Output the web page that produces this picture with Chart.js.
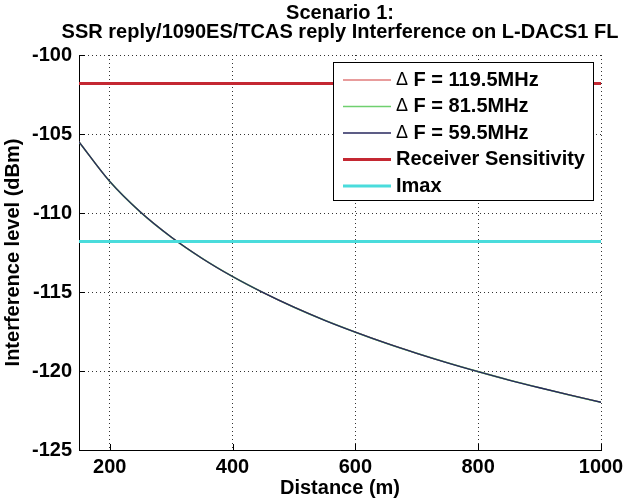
<!DOCTYPE html>
<html>
<head>
<meta charset="utf-8">
<script src="https://cdn.jsdelivr.net/npm/chart.js@4.4.0/dist/chart.umd.min.js"></script>
<style>
  html, body { margin: 0; padding: 0; background: #fff; }
</style>
</head>
<body>
<canvas id="interferenceChart" width="627" height="504"></canvas>
<script>
// distance (m) and interference level (dBm) per frequency offset
const distances = [150, 200, 250, 300, 350, 400, 450, 500, 550, 600, 650, 700, 750, 800, 850, 900, 950, 1000];
const df119 = [-105.50, -108.00, -109.94, -111.52, -112.86, -114.02, -115.04, -115.96, -116.79, -117.54, -118.24, -118.88, -119.48, -120.04, -120.57, -121.06, -121.53, -121.98];
const df81 = [-105.50, -108.00, -109.94, -111.52, -112.86, -114.02, -115.04, -115.96, -116.79, -117.54, -118.24, -118.88, -119.48, -120.04, -120.57, -121.06, -121.53, -121.98];
const df59 = [-105.50, -108.00, -109.94, -111.52, -112.86, -114.02, -115.04, -115.96, -116.79, -117.54, -118.24, -118.88, -119.48, -120.04, -120.57, -121.06, -121.53, -121.98];
const rxSensitivity = -101.8;
const imax = -111.8;
const xTicks = [200, 400, 600, 800, 1000];
const titleLines = ["Scenario 1:", "SSR reply/1090ES/TCAS reply Interference on L-DACS1 FL"];

const FONT = '"Liberation Sans", Arial, Helvetica, sans-serif';
const labelFont = { family: FONT, size: 20, weight: "bold" };

const toPoints = ys => distances.map((d, i) => ({ x: d, y: ys[i] }));
const flatLine = y => [{ x: distances[0], y: y }, { x: distances[distances.length - 1], y: y }];

// two-line title centred over the plot
const titlePlugin = {
    id: "twoLineTitle",
    afterDraw(chart) {
        const { ctx, chartArea } = chart;
        ctx.save();
        ctx.font = "bold 20px " + FONT;
        ctx.fillStyle = "#000";
        ctx.textAlign = "center";
        ctx.textBaseline = "middle";
        const cx = (chartArea.left + chartArea.right) / 2;
        titleLines.forEach((line, i) => ctx.fillText(line, cx, 13 + i * 19));
        ctx.restore();
    }
};

// small inward tick marks on the left and bottom axes
const innerTicks = {
    id: "innerTicks",
    afterDraw(chart) {
        const { ctx, chartArea, scales } = chart;
        ctx.save();
        ctx.strokeStyle = "#000";
        ctx.lineWidth = 1;
        ctx.beginPath();
        scales.y.ticks.forEach(t => {
            const y = Math.round(scales.y.getPixelForValue(t.value)) + 0.5;
            ctx.moveTo(chartArea.left, y);
            ctx.lineTo(chartArea.left + 6, y);
        });
        scales.x.ticks.forEach(t => {
            const x = Math.round(scales.x.getPixelForValue(t.value)) + 0.5;
            ctx.moveTo(x, chartArea.bottom);
            ctx.lineTo(x, chartArea.bottom - 6);
        });
        ctx.stroke();
        ctx.restore();
    }
};

// boxed legend in the upper right of the plot
const legendBox = {
    id: "legendBox",
    afterDraw(chart) {
        const { ctx, chartArea } = chart;
        const w = 260, h = 138;
        const left = chartArea.right - 8 - w;
        const top = chartArea.top + 7;
        ctx.save();
        ctx.fillStyle = "#fff";
        ctx.fillRect(left, top, w, h);
        ctx.strokeStyle = "#000";
        ctx.lineWidth = 1;
        ctx.strokeRect(left + 0.5, top + 0.5, w, h);
        ctx.textBaseline = "middle";
        chart.data.datasets.forEach((ds, i) => {
            const y = top + 18 + i * 26.5;
            ctx.strokeStyle = ds.borderColor;
            ctx.lineWidth = ds.borderWidth;
            ctx.beginPath();
            ctx.moveTo(left + 10, y);
            ctx.lineTo(left + 58, y);
            ctx.stroke();
            ctx.fillStyle = "#000";
            let x = left + 63;
            let text = ds.label;
            if (text.startsWith("Δ")) {
                ctx.font = "18px " + FONT;
                ctx.fillText("Δ", x, y);
                x += ctx.measureText("Δ").width;
                text = text.slice(1);
            }
            ctx.font = "bold 20px " + FONT;
            ctx.fillText(text, x, y);
        });
        ctx.restore();
    }
};

const ctx = document.getElementById("interferenceChart").getContext("2d");

new Chart(ctx, {
    type: "line",
    data: {
        datasets: [
            { label: "Δ F = 119.5MHz", data: toPoints(df119), borderColor: "#d23a3a", borderWidth: 1.2, order: 4 },
            { label: "Δ F = 81.5MHz", data: toPoints(df81), borderColor: "#6fd06f", borderWidth: 1.6, order: 3 },
            { label: "Δ F = 59.5MHz", data: toPoints(df59), borderColor: "#27275e", borderWidth: 1.3, order: 2 },
            { label: "Receiver Sensitivity", data: flatLine(rxSensitivity), borderColor: "#c42832", borderWidth: 3, order: 1 },
            { label: "Imax", data: flatLine(imax), borderColor: "#4adcdc", borderWidth: 3, order: 0 }
        ]
    },
    options: {
        responsive: false,
        animation: false,
        devicePixelRatio: 1,
        layout: { padding: { top: 55, right: 26, left: 0, bottom: 0 } },
        elements: {
            point: { radius: 0 },
            line: { cubicInterpolationMode: "monotone", fill: false }
        },
        plugins: {
            legend: { display: false },
            title: { display: false },
            tooltip: { enabled: false }
        },
        scales: {
            x: {
                type: "linear",
                min: 150,
                max: 1000,
                afterBuildTicks: scale => { scale.ticks = xTicks.map(v => ({ value: v })); },
                afterFit: scale => {
                    scale.height = 54;
                    scale.paddingLeft = 0;
                    scale.paddingRight = 0;
                },
                ticks: { color: "#000", font: labelFont, padding: 5, maxRotation: 0, callback: v => String(v) },
                grid: { color: "#333", lineWidth: 1, drawTicks: false },
                border: { display: true, color: "#000", width: 1, dash: [1, 3] },
                title: { display: true, text: "Distance (m)", color: "#000", font: labelFont, padding: { top: 0, bottom: 4 } }
            },
            y: {
                min: -125,
                max: -100,
                afterFit: scale => { scale.width = 79; },
                ticks: { stepSize: 5, color: "#000", font: labelFont, padding: 7 },
                grid: { color: "#333", lineWidth: 1, drawTicks: false },
                border: { display: true, color: "#000", width: 1, dash: [1, 3] },
                title: { display: true, text: "Interference level (dBm)", color: "#000", font: labelFont, padding: { top: 1, bottom: 0 } }
            }
        }
    },
    plugins: [innerTicks, legendBox, titlePlugin]
});
</script>
</body>
</html>
